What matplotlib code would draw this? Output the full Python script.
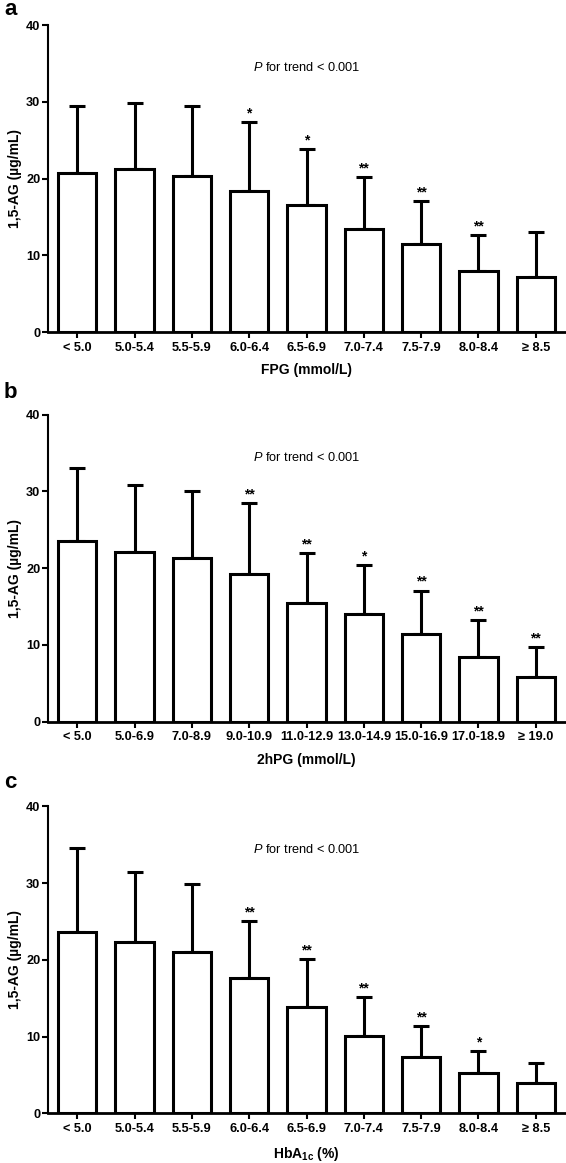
import numpy as np
import matplotlib
matplotlib.use("Agg")
import matplotlib.pyplot as plt

plt.rcParams['font.family'] = ['Liberation Sans', 'DejaVu Sans']
plt.rcParams['mathtext.fontset'] = 'custom'
plt.rcParams['mathtext.rm'] = 'Liberation Sans'
plt.rcParams['mathtext.it'] = 'Liberation Sans:italic'
plt.rcParams['mathtext.bf'] = 'Liberation Sans:bold'

# Panel a: FPG groups
fpg_labels = ["< 5.0", "5.0-5.4", "5.5-5.9", "6.0-6.4", "6.5-6.9",
              "7.0-7.4", "7.5-7.9", "8.0-8.4", "\u2265 8.5"]
fpg_mean = [20.7, 21.2, 20.3, 18.4, 16.6, 13.4, 11.5, 8.0, 7.2]
fpg_top = [29.5, 29.9, 29.5, 27.3, 23.8, 20.2, 17.1, 12.6, 13.0]
fpg_sig = ["", "", "", "*", "*", "**", "**", "**", ""]

# Panel b: 2hPG groups
pg2_labels = ["< 5.0", "5.0-6.9", "7.0-8.9", "9.0-10.9", "11.0-12.9",
              "13.0-14.9", "15.0-16.9", "17.0-18.9", "\u2265 19.0"]
pg2_mean = [23.5, 22.1, 21.3, 19.3, 15.5, 14.0, 11.4, 8.5, 5.8]
pg2_top = [33.0, 30.9, 30.1, 28.5, 22.0, 20.4, 17.1, 13.3, 9.7]
pg2_sig = ["", "", "", "**", "**", "*", "**", "**", "**"]

# Panel c: HbA1c groups
hba_labels = ["< 5.0", "5.0-5.4", "5.5-5.9", "6.0-6.4", "6.5-6.9",
              "7.0-7.4", "7.5-7.9", "8.0-8.4", "\u2265 8.5"]
hba_mean = [23.6, 22.3, 21.0, 17.6, 13.8, 10.1, 7.4, 5.2, 4.0]
hba_top = [34.6, 31.4, 29.9, 25.1, 20.1, 15.2, 11.4, 8.1, 6.6]
hba_sig = ["", "", "", "**", "**", "**", "**", "*", ""]

panels = [
    ("a", fpg_labels, fpg_mean, fpg_top, fpg_sig, "FPG (mmol/L)"),
    ("b", pg2_labels, pg2_mean, pg2_top, pg2_sig, "2hPG (mmol/L)"),
    ("c", hba_labels, hba_mean, hba_top, hba_sig, r"HbA$_{\mathbf{1c}}$ (%)"),
]

W, H = 566, 1163
fig = plt.figure(figsize=(W / 100, H / 100), dpi=100)
bottoms = [0.7145, 0.3794, 0.0427]
letter_y = [15, 398, 788]  # baseline of panel letters, in pixels from top

for (letter, labels, mean, top, sig, xlab), b, ly in zip(panels, bottoms, letter_y):
    ax = fig.add_axes([48 / W, b, 517 / W, 0.264])
    x = np.arange(len(labels))
    mean = np.array(mean)
    upper = np.array(top) - mean
    ax.errorbar(x, mean, yerr=[np.zeros_like(upper), upper], fmt='none',
                ecolor='black', elinewidth=2.2, capsize=6, capthick=2.2,
                zorder=1)
    ax.bar(x, mean, width=0.67, color='white', edgecolor='black',
           linewidth=2.2, zorder=2)
    for xi, t, s in zip(x, top, sig):
        if s:
            ax.text(xi, t + 0.2, s, ha='center', va='bottom', fontsize=10,
                    fontweight='bold')
    ax.text(4, 34.4, r"$\mathit{P}$ for trend < 0.001", ha='center',
            va='center', fontsize=9.2)
    ax.set_xlim(-0.51, 8.51)
    ax.set_ylim(0, 40)
    ax.set_yticks([0, 10, 20, 30, 40])
    ax.set_xticks(x)
    ax.set_xticklabels(labels, fontsize=9.2, fontweight='bold')
    for lbl in ax.get_yticklabels():
        lbl.set_fontsize(9.2)
        lbl.set_fontweight('bold')
    ax.tick_params(axis='both', direction='out', length=4, width=1.5, pad=1.5)
    ax.tick_params(axis='x', pad=3)
    ax.spines['top'].set_visible(False)
    ax.spines['right'].set_visible(False)
    ax.spines['left'].set_linewidth(1.5)
    ax.spines['bottom'].set_linewidth(2)
    ax.set_ylabel("1,5-AG (\u00b5g/mL)", fontsize=10, fontweight='bold',
                  labelpad=3)
    ax.set_xlabel(xlab, fontsize=10, fontweight='bold', labelpad=7)
    fig.text(4 / W, 1 - ly / H, letter, fontsize=16, fontweight='bold',
             ha='left', va='baseline')

fig.savefig("out.png", dpi=100)
